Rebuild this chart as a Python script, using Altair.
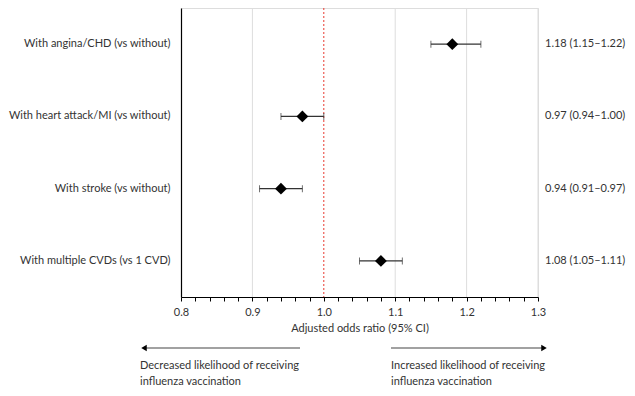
import altair as alt
import pandas as pd

# ---- data ----
categories = [
    "With angina/CHD (vs without)",
    "With heart attack/MI (vs without)",
    "With stroke (vs without)",
    "With multiple CVDs (vs 1 CVD)",
]
odds_ratio = [1.18, 0.97, 0.94, 1.08]
ci_low = [1.15, 0.94, 0.91, 1.05]
ci_high = [1.22, 1.00, 0.97, 1.11]
ci_text = ["1.18 (1.15–1.22)", "0.97 (0.94–1.00)", "0.94 (0.91–0.97)", "1.08 (1.05–1.11)"]

tick_values = [0.80, 0.82, 0.84, 0.86, 0.88, 0.90, 0.92, 0.94, 0.96, 0.98,
               1.00, 1.02, 1.04, 1.06, 1.08, 1.10, 1.12, 1.14, 1.16, 1.18,
               1.20, 1.22, 1.24, 1.26, 1.28, 1.30]
grid_values = [0.9, 1.1, 1.2, 1.3]
null_value = [1.0]

df = pd.DataFrame({"cat": categories, "or": odds_ratio, "lo": ci_low,
                   "hi": ci_high, "txt": ci_text})
grid_df = pd.DataFrame({"g": grid_values})
null_df = pd.DataFrame({"n": null_value})

FONT = "Lato"
FS = 11
TXT = "#333333"
W, H = 357, 289

xscale = alt.Scale(domain=[0.8, 1.3], nice=False, zero=False)
yenc = alt.Y("cat:N", sort=categories, title=None,
             axis=alt.Axis(domain=True, domainColor="#000000", domainWidth=1.2,
                           ticks=False, tickSize=0, labelPadding=11,
                           labelFontSize=FS, labelColor=TXT, labelFont=FONT,
                           labelLimit=300, grid=False))

grid = alt.Chart(grid_df).mark_rule(color="#dddddd", strokeWidth=1).encode(
    x=alt.X("g:Q", scale=xscale)
)

null_line = alt.Chart(null_df).mark_rule(color="#e8392f", strokeWidth=1,
                                         strokeDash=[2, 2]).encode(
    x=alt.X("n:Q", scale=xscale)
)

base = alt.Chart(df)

xaxis = alt.Axis(values=tick_values, tickCount=100,
                 title="Adjusted odds ratio (95% CI)",
                 labelExpr="abs(datum.value*10 - round(datum.value*10)) < 0.001 ? format(datum.value, '.1f') : ''",
                 labelOverlap=False, labelFlush=False, grid=False,
                 domainColor="#000000", domainWidth=1.2, tickColor="#000000",
                 tickSize=4, labelPadding=5, labelFontSize=FS, labelColor=TXT,
                 labelFont=FONT, titleFont=FONT, titleFontSize=FS,
                 titleFontWeight="normal", titleColor=TXT, titlePadding=5)

ci_rule = base.mark_rule(color="#333333", strokeWidth=1.2).encode(
    x=alt.X("lo:Q", scale=xscale, axis=xaxis),
    x2="hi:Q",
    y=yenc,
)
cap_lo = base.mark_tick(color="#333333", thickness=1, size=7).encode(
    x=alt.X("lo:Q", scale=xscale), y=alt.Y("cat:N", sort=categories)
)
cap_hi = base.mark_tick(color="#333333", thickness=1, size=7).encode(
    x=alt.X("hi:Q", scale=xscale), y=alt.Y("cat:N", sort=categories)
)
points = base.mark_point(shape="diamond", filled=True, color="#000000",
                         size=140, opacity=1).encode(
    x=alt.X("or:Q", scale=xscale), y=alt.Y("cat:N", sort=categories)
)
right_text = base.mark_text(align="left", baseline="middle", font=FONT,
                            fontSize=FS, color=TXT).encode(
    x=alt.value(W + 7), y=alt.Y("cat:N", sort=categories), text="txt:N"
)

one = alt.Data(values=[{}])
arrow_left = alt.Chart(one).mark_rule(color="#444444", strokeWidth=1.2).encode(
    x=alt.value(-38), x2=alt.value(119), y=alt.value(340))
head_left = alt.Chart(one).mark_point(shape="triangle-left", filled=True,
                                      color="#000000", size=40, opacity=1).encode(
    x=alt.value(-37), y=alt.value(340))
arrow_right = alt.Chart(one).mark_rule(color="#444444", strokeWidth=1.2).encode(
    x=alt.value(210), x2=alt.value(364), y=alt.value(340))
head_right = alt.Chart(one).mark_point(shape="triangle-right", filled=True,
                                       color="#000000", size=40, opacity=1).encode(
    x=alt.value(363), y=alt.value(340))
text_left = alt.Chart(one).mark_text(
    text=["Decreased likelihood of receiving", "influenza vaccination"],
    align="left", baseline="middle", font=FONT, fontSize=FS, color=TXT,
    lineHeight=16).encode(x=alt.value(-41), y=alt.value(358))
text_right = alt.Chart(one).mark_text(
    text=["Increased likelihood of receiving", "influenza vaccination"],
    align="left", baseline="middle", font=FONT, fontSize=FS, color=TXT,
    lineHeight=16).encode(x=alt.value(210), y=alt.value(358))

chart = alt.layer(
    grid, null_line, ci_rule, cap_lo, cap_hi, points, right_text,
    arrow_left, head_left, arrow_right, head_right, text_left, text_right
).properties(
    width=W, height=H,
    autosize=alt.AutoSizeParams(type="none"),
    padding={"left": 173, "top": 0, "right": 89, "bottom": 91},
).configure_view(stroke=None).configure(background="#ffffff")

chart.save("out.html", embed_options={"renderer": "svg", "actions": False})
